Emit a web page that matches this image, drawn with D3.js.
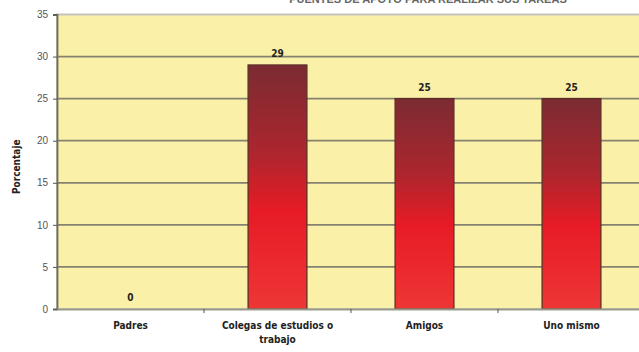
<!DOCTYPE html>
<html>
<head>
<meta charset="utf-8">
<script src="https://cdn.jsdelivr.net/npm/d3@7"></script>
<style>
  html, body { margin: 0; padding: 0; background: #fff; overflow: hidden; }
  svg { display: block; }
</style>
</head>
<body>
<svg id="chart" width="639" height="352"></svg>
<script>
// Data
const categories = ["Padres", "Colegas de estudios o trabajo", "Amigos", "Uno mismo"];
const values = [0, 29, 25, 25];
const yTicks = [0, 5, 10, 15, 20, 25, 30, 35];
const titleText = "PUENTES DE APOYO PARA REALIZAR SUS TAREAS";
const yLabel = "Porcentaje";

const svg = d3.select("#chart");
const W = 639, H = 352;
const m = { left: 57, top: 14.5, right: -6, bottom: 43 };
const pw = W - m.left - m.right, ph = H - m.top - m.bottom;

const x = d3.scaleBand().domain(categories).range([m.left, m.left + pw]).paddingInner(0).paddingOuter(0);
const y = d3.scaleLinear().domain([0, 35]).range([m.top + ph, m.top]);

const defs = svg.append("defs");
const grad = defs.append("linearGradient").attr("id", "barGrad")
  .attr("x1", 0).attr("y1", 0).attr("x2", 0).attr("y2", 1);
grad.append("stop").attr("offset", "0%").attr("stop-color", "#7b2b32");
grad.append("stop").attr("offset", "35%").attr("stop-color", "#ab262e");
grad.append("stop").attr("offset", "60%").attr("stop-color", "#e71b25");
grad.append("stop").attr("offset", "100%").attr("stop-color", "#ee3636");

// Title (runs off the top edge)
svg.append("text")
  .attr("x", 428).attr("y", 2.5)
  .attr("text-anchor", "middle")
  .attr("font-family", "Liberation Sans, Arial, sans-serif")
  .attr("font-weight", "bold").attr("font-size", 11)
  .attr("fill", "#666")
  .text(titleText);

// Plot background
svg.append("rect")
  .attr("x", m.left).attr("y", m.top)
  .attr("width", pw).attr("height", ph)
  .attr("fill", "#faf0a8")
  .attr("stroke", "#c4c4ba").attr("stroke-width", 2);

// Gridlines
svg.append("g").selectAll("line").data(yTicks.filter(d => d > 0 && d < 35)).join("line")
  .attr("x1", m.left).attr("x2", m.left + pw)
  .attr("y1", d => y(d)).attr("y2", d => y(d))
  .attr("stroke", "#858270").attr("stroke-width", 1.8);

// Bars
const bw = x.bandwidth() * 0.40;
svg.append("g").selectAll("rect").data(categories).join("rect")
  .attr("x", (d) => x(d) + (x.bandwidth() - bw) / 2)
  .attr("y", (d, i) => y(values[i]))
  .attr("width", bw)
  .attr("height", (d, i) => y(0) - y(values[i]))
  .attr("fill", "url(#barGrad)")
  .attr("stroke", "#5e2e26").attr("stroke-width", 1.3);

// Value labels
svg.append("g").selectAll("text").data(categories).join("text")
  .attr("x", d => x(d) + x.bandwidth() / 2)
  .attr("y", (d, i) => y(values[i]) - 8)
  .attr("text-anchor", "middle")
  .attr("font-family", "DejaVu Sans Condensed, DejaVu Sans, sans-serif")
  .attr("font-weight", "bold").attr("font-size", 10)
  .attr("fill", "#222")
  .text((d, i) => values[i]);

// Y axis
const yAxis = svg.append("g").attr("transform", `translate(${m.left},0)`)
  .call(d3.axisLeft(y).tickValues(yTicks).tickSize(4).tickPadding(5));
yAxis.select(".domain").attr("stroke", "#6e6e60").attr("stroke-width", 1.8);
yAxis.selectAll(".tick line").attr("stroke", "#555").attr("stroke-width", 1);
yAxis.selectAll("text")
  .attr("font-family", "Liberation Sans, Arial, sans-serif")
  .attr("font-size", 10).attr("fill", "#555");

// X axis
const xAxis = svg.append("g").attr("transform", `translate(0,${y(0)})`)
  .call(d3.axisBottom(x).tickSize(0).tickFormat(""));
xAxis.select(".domain").attr("stroke", "#9a9a8a").attr("stroke-width", 1.8);
svg.append("g").selectAll("line").data(categories.slice(1)).join("line")
  .attr("x1", d => x(d)).attr("x2", d => x(d))
  .attr("y1", y(0)).attr("y2", y(0) + 4)
  .attr("stroke", "#555");

// Category labels (wrapped)
const lines = ["Padres", ["Colegas de estudios o", "trabajo"], "Amigos", "Uno mismo"];
svg.append("g").selectAll("text").data(categories).join("text")
  .attr("x", d => x(d) + x.bandwidth() / 2)
  .attr("y", y(0) + 19.5)
  .attr("text-anchor", "middle")
  .attr("font-family", "DejaVu Sans Condensed, DejaVu Sans, sans-serif")
  .attr("font-weight", "bold").attr("font-size", 10)
  .attr("fill", "#222")
  .each(function(d, i) {
    const t = d3.select(this);
    const parts = Array.isArray(lines[i]) ? lines[i] : [lines[i]];
    parts.forEach((p, j) => {
      t.append("tspan").attr("x", x(d) + x.bandwidth() / 2).attr("dy", j === 0 ? 0 : 14.5).text(p);
    });
  });

// Y axis title
svg.append("text")
  .attr("transform", `translate(20,${(m.top + y(0)) / 2 + 5}) rotate(-90)`)
  .attr("text-anchor", "middle")
  .attr("font-family", "DejaVu Sans Condensed, DejaVu Sans, sans-serif")
  .attr("font-weight", "bold").attr("font-size", 10)
  .attr("fill", "#222")
  .text(yLabel);
</script>
</body>
</html>
